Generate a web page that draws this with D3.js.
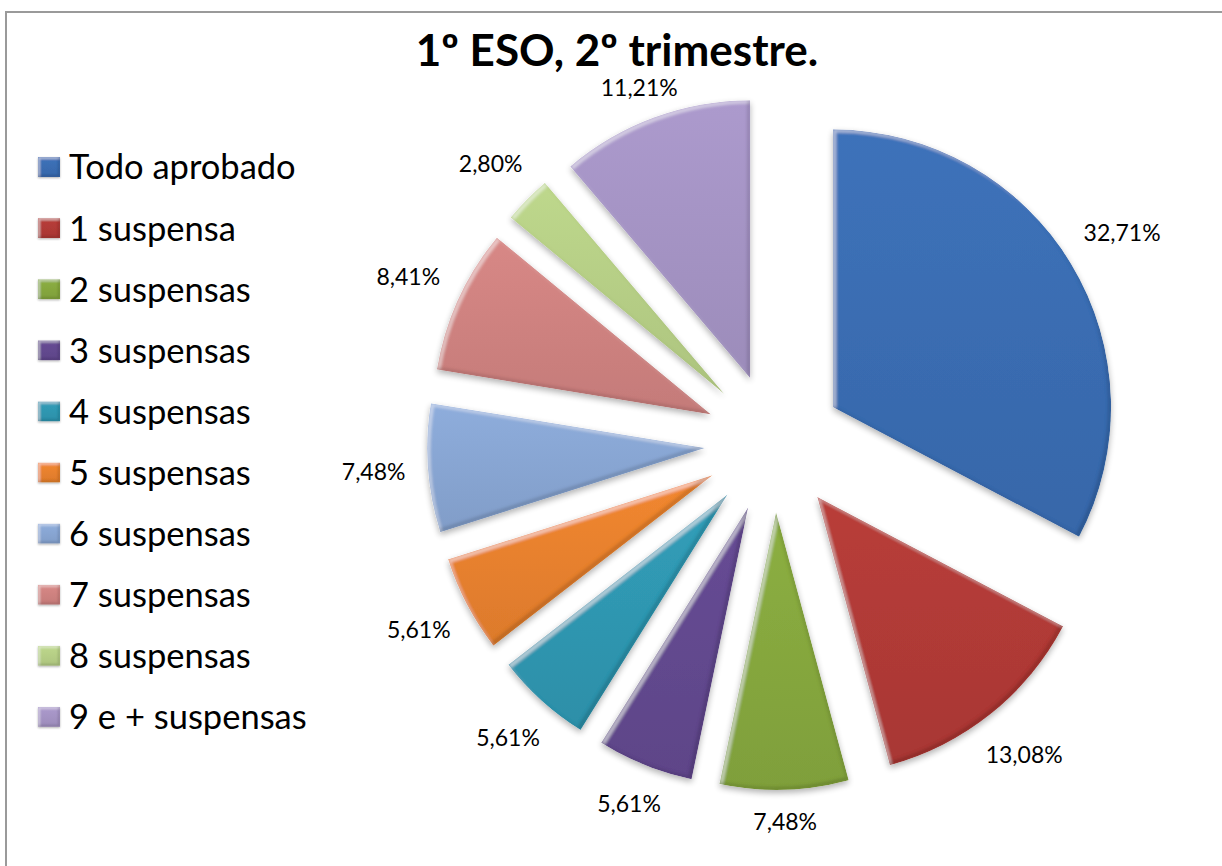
<!DOCTYPE html>
<html>
<head>
<meta charset="utf-8">
<script src="https://cdn.jsdelivr.net/npm/d3@7"></script>
<style>
  html, body { margin: 0; padding: 0; background: #fff; }
  svg { display: block; }
  text { font-family: Lato, "Open Sans", sans-serif; fill: #000; }
</style>
</head>
<body>
<svg id="chart" width="1222" height="866"></svg>
<script>
const categories = ["Todo aprobado", "1 suspensa", "2 suspensas", "3 suspensas", "4 suspensas",
                    "5 suspensas", "6 suspensas", "7 suspensas", "8 suspensas", "9 e + suspensas"];
const values = [32.71, 13.08, 7.48, 5.61, 5.61, 5.61, 7.48, 8.41, 2.80, 11.21];
const labels = ["32,71%", "13,08%", "7,48%", "5,61%", "5,61%", "5,61%", "7,48%", "8,41%", "2,80%", "11,21%"];
const colors = ["#3A6DB2", "#B13A37", "#86A83E", "#63498F", "#2F97B1",
                "#E8812E", "#88A6D3", "#CF8280", "#B6CF86", "#A594C4"];
const title = "1º ESO, 2º trimestre.";

const svg = d3.select("#chart");
const W = 1222, H = 866;

const defs = svg.append("defs");

function makeBevel(id, off, blur, shadowBlur, shadowDy) {
  const f = defs.append("filter").attr("id", id)
    .attr("x", "-10%").attr("y", "-10%").attr("width", "125%").attr("height", "125%");
  // light edge (top-left)
  f.append("feOffset").attr("in", "SourceAlpha").attr("dx", off).attr("dy", off).attr("result", "o1");
  f.append("feComposite").attr("in", "SourceAlpha").attr("in2", "o1").attr("operator", "out").attr("result", "e1");
  f.append("feGaussianBlur").attr("in", "e1").attr("stdDeviation", blur).attr("result", "e1b");
  f.append("feFlood").attr("flood-color", "#ffffff").attr("flood-opacity", 0.45).attr("result", "fw");
  f.append("feComposite").attr("in", "fw").attr("in2", "e1b").attr("operator", "in").attr("result", "hl");
  // dark edge (bottom-right)
  f.append("feOffset").attr("in", "SourceAlpha").attr("dx", -off).attr("dy", -off).attr("result", "o2");
  f.append("feComposite").attr("in", "SourceAlpha").attr("in2", "o2").attr("operator", "out").attr("result", "e2");
  f.append("feGaussianBlur").attr("in", "e2").attr("stdDeviation", blur).attr("result", "e2b");
  f.append("feFlood").attr("flood-color", "#000000").attr("flood-opacity", 0.3).attr("result", "fb");
  f.append("feComposite").attr("in", "fb").attr("in2", "e2b").attr("operator", "in").attr("result", "sh");
  const m1 = f.append("feMerge").attr("result", "lit");
  m1.append("feMergeNode").attr("in", "SourceGraphic");
  m1.append("feMergeNode").attr("in", "hl");
  m1.append("feMergeNode").attr("in", "sh");
  f.append("feComposite").attr("in", "lit").attr("in2", "SourceAlpha").attr("operator", "in").attr("result", "litc");
  // drop shadow
  f.append("feGaussianBlur").attr("in", "SourceAlpha").attr("stdDeviation", shadowBlur).attr("result", "sb");
  f.append("feOffset").attr("in", "sb").attr("dx", 0).attr("dy", shadowDy).attr("result", "so");
  f.append("feComponentTransfer").attr("in", "so").attr("result", "shadow")
    .append("feFuncA").attr("type", "linear").attr("slope", 0.3);
  const m2 = f.append("feMerge");
  m2.append("feMergeNode").attr("in", "shadow");
  m2.append("feMergeNode").attr("in", "litc");
}
makeBevel("bevel", 3, 1.6, 3, 3);
makeBevel("bevelSmall", 2, 1, 1, 1);

colors.forEach((c, i) => {
  const g = defs.append("linearGradient").attr("id", "g" + i)
    .attr("x1", 0).attr("y1", 0).attr("x2", 0).attr("y2", 1);
  g.append("stop").attr("offset", "0%").attr("stop-color", d3.color(c).brighter(0.12));
  g.append("stop").attr("offset", "100%").attr("stop-color", d3.color(c).darker(0.15));
});

// frame
svg.append("rect").attr("x", 6).attr("y", 12).attr("width", W + 10).attr("height", H + 10)
  .attr("fill", "none").attr("stroke", "#9a9a9a").attr("stroke-width", 2);

// title
svg.append("text").attr("x", 617).attr("y", 66).attr("text-anchor", "middle")
  .attr("font-size", 44).attr("font-weight", "bold").text(title);

// pie
const cx = 774, cy = 443, R = 278, explode = 69, gap = 22, plotTop = 79;
const pie = d3.pie().sort(null).value(d => d)(values);
const arc = d3.arc().innerRadius(0).outerRadius(R);
const pg = svg.append("g").attr("transform", `translate(${cx},${cy})`);
const lblG = svg.append("g").attr("transform", `translate(${cx},${cy})`);

pie.forEach((p, i) => {
  const mid = (p.startAngle + p.endAngle) / 2;
  const ux = Math.sin(mid), uy = -Math.cos(mid);
  const ox = explode * ux, oy = explode * uy;
  pg.append("path").attr("d", arc(p))
    .attr("transform", `translate(${ox},${oy})`)
    .attr("fill", `url(#g${i})`)
    .attr("filter", "url(#bevel)");
  const t = lblG.append("text").attr("font-size", 23).attr("text-anchor", "middle")
    .attr("dy", "0.35em").text(labels[i]);
  const hw = t.node().getComputedTextLength() / 2, hh = 9;
  const dist = R + gap + hw * Math.abs(ux) + hh * Math.abs(uy);
  let lx = ox + dist * ux, ly = oy + dist * uy;
  // keep labels inside the plot area (below the title)
  const minY = plotTop + hh - cy;
  if (ly < minY) ly = minY;
  t.attr("x", lx).attr("y", ly);
});

// legend
const lg = svg.append("g");
categories.forEach((c, i) => {
  const y = 167 + i * 61.1;
  lg.append("rect").attr("x", 38).attr("y", y - 10).attr("width", 22).attr("height", 20)
    .attr("fill", `url(#g${i})`).attr("filter", "url(#bevelSmall)");
  lg.append("text").attr("x", 69).attr("y", y).attr("dy", "0.36em")
    .attr("font-size", 34.5).text(c);
});
</script>
</body>
</html>
